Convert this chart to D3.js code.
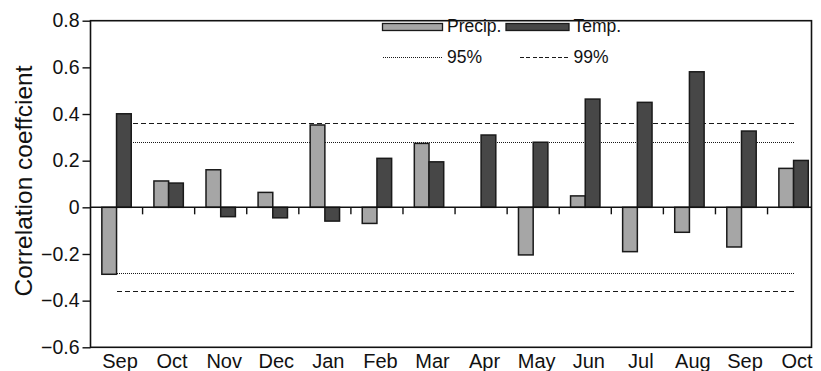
<!DOCTYPE html>
<html>
<head>
<meta charset="utf-8">
<script src="https://cdn.jsdelivr.net/npm/d3@7"></script>
<style>
  html, body { margin: 0; padding: 0; background: #fff; }
  svg text { font-family: "Liberation Sans", Arial, Helvetica, sans-serif; fill: #111; }
</style>
</head>
<body>
<svg id="chart" width="821" height="371"></svg>
<script>
// Months of the growing window (Sep of previous year through Oct)
const months = ["Sep", "Oct", "Nov", "Dec", "Jan", "Feb", "Mar", "Apr", "May", "Jun", "Jul", "Aug", "Sep", "Oct"];
// Correlation of the index with monthly precipitation and temperature
const precip = [-0.287, 0.113, 0.161, 0.064, 0.353, -0.069, 0.274, 0, -0.204, 0.049, -0.19, -0.107, -0.17, 0.167];
const temp   = [0.401, 0.104, -0.04, -0.045, -0.059, 0.21, 0.195, 0.31, 0.279, 0.464, 0.45, 0.581, 0.327, 0.201];
// Significance thresholds
const sig95 = 0.28;
const sig99 = 0.36;
const yTicks = [-0.6, -0.4, -0.2, 0, 0.2, 0.4, 0.6, 0.8];

const svg = d3.select("#chart");
const plotLeft = 90.5, plotTop = 20.7, frameW = 721, frameH = 326.6;
const step = 52.08;
const barW = 14.7;

const keys = months.map((m, i) => i);
const x = d3.scaleBand().domain(keys).range([plotLeft, plotLeft + step * months.length]).padding(0);
const y = d3.scaleLinear().domain([-0.6, 0.8]).range([plotTop + frameH, plotTop]);
const cx = i => x(i) + x.bandwidth() / 2;

// Frame
svg.append("rect")
  .attr("x", plotLeft).attr("y", plotTop).attr("width", frameW).attr("height", frameH)
  .attr("fill", "none").attr("stroke", "#111").attr("stroke-width", 1.6);

// Y axis
const yAxis = d3.axisLeft(y).tickValues(yTicks).tickSize(8).tickPadding(3)
  .tickFormat(d => d === 0 ? "0" : d3.format(".1f")(d));
const ga = svg.append("g").attr("transform", `translate(${plotLeft},0)`).call(yAxis);
ga.select(".domain").remove();
ga.selectAll(".tick line").attr("stroke", "#111").attr("stroke-width", 1.4);
ga.selectAll(".tick text").attr("font-size", 19.5).attr("fill", "#111")
  .attr("font-family", '"Liberation Sans", Arial, sans-serif');

// Y label
svg.append("text")
  .attr("transform", `translate(31.5,${plotTop + frameH / 2 - 3}) rotate(-90)`)
  .attr("text-anchor", "middle").attr("font-size", 24.5)
  .text("Correlation coeffcient");

// Month labels
svg.append("g").selectAll("text").data(keys).join("text")
  .attr("x", i => cx(i) + 3.5).attr("y", 368)
  .attr("text-anchor", "middle").attr("font-size", 20)
  .text(i => months[i]);

// Significance lines (snapped to the pixel grid so the dots stay crisp)
const x1 = Math.round(cx(0)), x2 = Math.round(cx(months.length - 1));
const refs = [
  { v: sig95, dash: "1,1" },
  { v: -sig95, dash: "1,1" },
  { v: sig99, dash: "5,3" },
  { v: -sig99, dash: "5,3" }
];
svg.append("g").attr("shape-rendering", "crispEdges")
  .selectAll("line").data(refs).join("line")
  .attr("x1", x1).attr("x2", x2)
  .attr("y1", d => Math.round(y(d.v)) + 0.5).attr("y2", d => Math.round(y(d.v)) + 0.5)
  .attr("stroke", "#1a1a1a").attr("stroke-width", 1)
  .attr("stroke-dasharray", d => d.dash);

// Bars
const bars = svg.append("g").attr("stroke", "#1a1a1a").attr("stroke-width", 1.5);
bars.selectAll("rect.p").data(keys.filter(i => precip[i] !== 0)).join("rect")
  .attr("class", "p")
  .attr("x", i => cx(i) - barW).attr("width", barW)
  .attr("y", i => y(Math.max(0, precip[i])))
  .attr("height", i => Math.abs(y(precip[i]) - y(0)))
  .attr("fill", "#a6a6a6");
bars.selectAll("rect.t").data(keys).join("rect")
  .attr("class", "t")
  .attr("x", i => cx(i)).attr("width", barW)
  .attr("y", i => y(Math.max(0, temp[i])))
  .attr("height", i => Math.abs(y(temp[i]) - y(0)))
  .attr("fill", "#474747");

// Zero line and x ticks between months
svg.append("line")
  .attr("x1", plotLeft).attr("x2", plotLeft + frameW)
  .attr("y1", y(0)).attr("y2", y(0))
  .attr("stroke", "#111").attr("stroke-width", 1.5);
svg.append("g").selectAll("line").data(keys.slice(1)).join("line")
  .attr("x1", i => x(i)).attr("x2", i => x(i))
  .attr("y1", y(0)).attr("y2", y(0) + 7)
  .attr("stroke", "#111").attr("stroke-width", 1.4);

// Legend
const lg = svg.append("g");
lg.append("rect").attr("x", 382.5).attr("y", 23.5).attr("width", 60).attr("height", 7)
  .attr("fill", "#a6a6a6").attr("stroke", "#1a1a1a").attr("stroke-width", 1.3);
lg.append("text").attr("x", 447).attr("y", 31.5).attr("font-size", 17.5).text("Precip.");
lg.append("rect").attr("x", 506).attr("y", 23.5).attr("width", 63).attr("height", 7)
  .attr("fill", "#474747").attr("stroke", "#1a1a1a").attr("stroke-width", 1.3);
lg.append("text").attr("x", 573.5).attr("y", 31.5).attr("font-size", 17.5).text("Temp.");
lg.append("line").attr("x1", 383).attr("x2", 443).attr("y1", 57.5).attr("y2", 57.5)
  .attr("shape-rendering", "crispEdges")
  .attr("stroke", "#1a1a1a").attr("stroke-width", 1).attr("stroke-dasharray", "1,1");
lg.append("text").attr("x", 447).attr("y", 63).attr("font-size", 17.5).text("95%");
lg.append("line").attr("x1", 520).attr("x2", 570).attr("y1", 57.5).attr("y2", 57.5)
  .attr("shape-rendering", "crispEdges")
  .attr("stroke", "#1a1a1a").attr("stroke-width", 1).attr("stroke-dasharray", "4,2.3");
lg.append("text").attr("x", 573.5).attr("y", 63).attr("font-size", 17.5).text("99%");
</script>
</body>
</html>
